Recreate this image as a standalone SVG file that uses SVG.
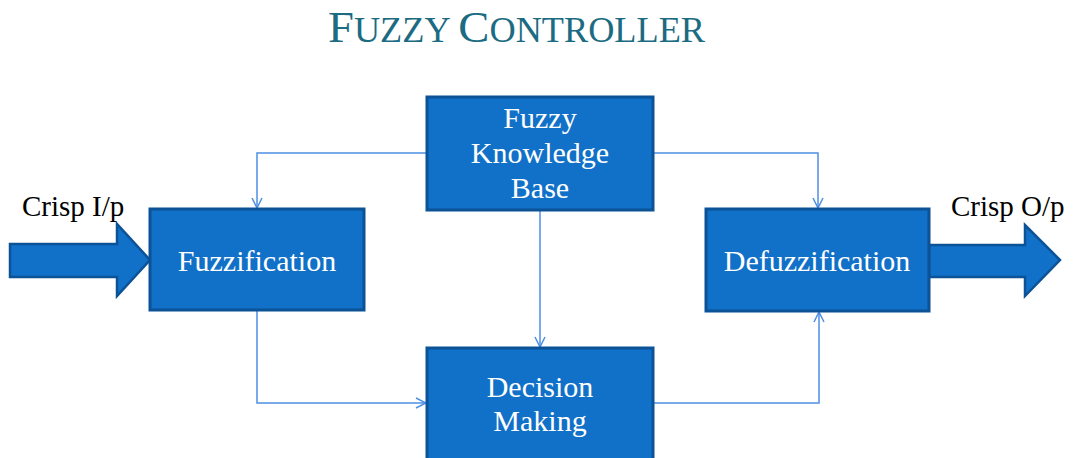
<svg xmlns="http://www.w3.org/2000/svg" width="1080" height="458" viewBox="0 0 1080 458">
<style>
.box{fill:#1170C7;stroke:#0B5296;stroke-width:3}
.lbl{font-size:30px;fill:#FFFFFF;text-anchor:middle}
.io{font-size:29px;fill:#000000}
.con{fill:none;stroke:#4D8FE3;stroke-width:1.5}
.big{fill:#1170C7;stroke:#0B5296;stroke-width:2.5;stroke-linejoin:miter}
.title{fill:#1B6B82}
</style>
<defs>
<marker id="arr" viewBox="0 0 12 12" refX="11" refY="6" markerWidth="12" markerHeight="12" markerUnits="userSpaceOnUse" orient="auto">
<path d="M1,1 L11,6 L1,11" fill="none" stroke="#4D8FE3" stroke-width="1.5"/>
</marker>
</defs>
<g font-family="'Liberation Serif', 'Times New Roman', serif">
<text class="title" x="328" y="42" textLength="377" lengthAdjust="spacingAndGlyphs"><tspan font-size="45">F</tspan><tspan font-size="35">UZZY </tspan><tspan font-size="45">C</tspan><tspan font-size="35">ONTROLLER</tspan></text>
<g id="connectors">
<polyline class="con" points="427,153 257,153 257,208" marker-end="url(#arr)"/>
<polyline class="con" points="653,153 818,153 818,208" marker-end="url(#arr)"/>
<polyline class="con" points="540,210 540,347" marker-end="url(#arr)"/>
<polyline class="con" points="257,311 257,403 426,403" marker-end="url(#arr)"/>
<polyline class="con" points="653,403 819,403 819,312" marker-end="url(#arr)"/>
</g>
<g id="input">
<path class="big" d="M10,244 L117,244 L117,224 L150,260 L117,296 L117,277 L10,277 Z"/>
<text class="io" x="22" y="216" font-family="'Liberation Serif', serif">Crisp I/p</text>
</g>
<g id="output">
<path class="big" d="M929,245 L1025,245 L1025,225 L1060,260 L1025,296 L1025,277 L929,277 Z"/>
<text class="io" x="951" y="216" font-family="'Liberation Serif', serif">Crisp O/p</text>
</g>
<g id="fuzzification">
<rect class="box" x="150" y="209" width="214" height="101"/>
<text class="lbl" x="257" y="271" font-family="'Liberation Serif', serif">Fuzzification</text>
</g>
<g id="knowledge">
<rect class="box" x="427" y="97" width="226" height="113"/>
<text class="lbl" x="540" y="128" font-family="'Liberation Serif', serif">Fuzzy</text>
<text class="lbl" x="540" y="163" font-family="'Liberation Serif', serif">Knowledge</text>
<text class="lbl" x="540" y="198" font-family="'Liberation Serif', serif">Base</text>
</g>
<g id="defuzzification">
<rect class="box" x="706" y="209" width="223" height="102"/>
<text class="lbl" x="817" y="271" font-family="'Liberation Serif', serif">Defuzzification</text>
</g>
<g id="decision">
<rect class="box" x="427" y="348" width="226" height="115"/>
<text class="lbl" x="540" y="397" font-family="'Liberation Serif', serif">Decision</text>
<text class="lbl" x="540" y="431" font-family="'Liberation Serif', serif">Making</text>
</g>
</g>
</svg>
